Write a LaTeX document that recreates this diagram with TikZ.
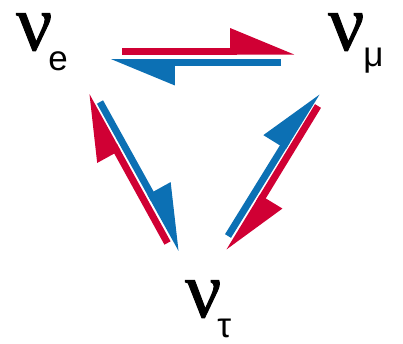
\documentclass[tikz,border=0pt]{standalone}
\usepackage{fontspec}
\setmainfont{Liberation Sans}
\newfontfamily\nufont[FakeBold=1.2]{Liberation Serif}
\usetikzlibrary{arrows.meta}
\definecolor{nured}{RGB}{208,0,52}
\definecolor{nublue}{RGB}{12,112,180}

\begin{document}
\begin{tikzpicture}[
        x=1pt, y=-1pt,
        flavour/.style={font=\nufont\fontsize{80}{80}\selectfont, inner sep=0pt, anchor=base west},
        osc/.style={line width=7pt, -{Triangle[harpoon, length=56pt, width=44pt]}},
        toflavour/.style={osc, draw=nured},
        fromflavour/.style={osc, draw=nublue}
    ]
        \useasboundingbox (0,0) rectangle (403,343);
        % --- FLAVOUR STATES ---
        \node[flavour] (ve) at (16,50) {ν\kern-4pt\raisebox{-20pt}{\rmfamily\fontsize{35}{35}\selectfont e}};
        \node[flavour] (vmu) at (328,50) {ν\kern-1pt\raisebox{-16pt}{\rmfamily\fontsize{35}{35}\selectfont μ}};
        \node[flavour] (vtau) at (185,317) {ν\kern-4pt\raisebox{-20pt}{\rmfamily\fontsize{35}{35}\selectfont τ}};

        % --- ARROW ENDS ---
        \coordinate (emu_a) at (122,51);    \coordinate (emu_b) at (295,51);
        \coordinate (mue_a) at (281,62.5);  \coordinate (mue_b) at (110,62.5);
        \coordinate (taue_a) at (167.5,243); \coordinate (taue_b) at (86,95);
        \coordinate (etau_a) at (100,102);  \coordinate (etau_b) at (182,250);
        \coordinate (taumu_a) at (228,236); \coordinate (taumu_b) at (317,92);
        \coordinate (mutau_a) at (318,106); \coordinate (mutau_b) at (229,252);

        % --- OSCILLATIONS ---
        \draw[toflavour] (emu_a) -- (emu_b);
        \draw[fromflavour] (mue_a) -- (mue_b);
        \draw[toflavour] (taue_a) -- (taue_b);
        \draw[fromflavour] (etau_a) -- (etau_b);
        \draw[fromflavour] (taumu_a) -- (taumu_b);
        \draw[toflavour] (mutau_a) -- (mutau_b);
\end{tikzpicture}
\end{document}
